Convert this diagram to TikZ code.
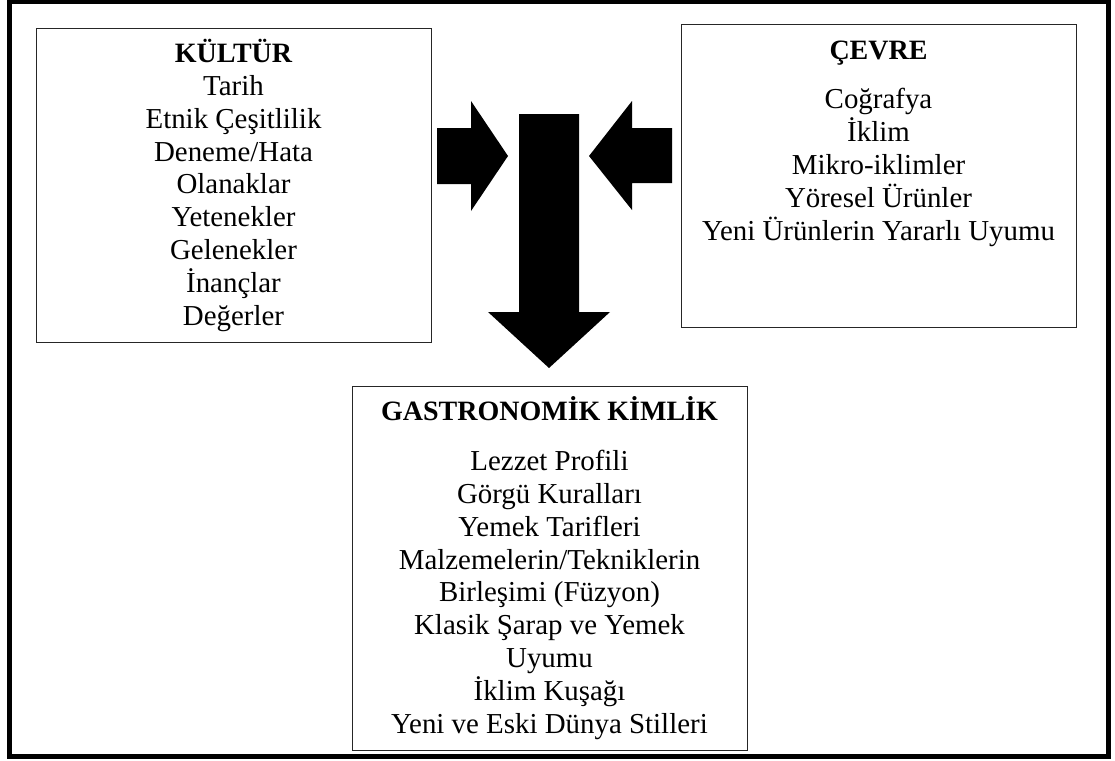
\documentclass[tikz,border=0pt]{standalone}
\usepackage{fontspec}
\setmainfont{Liberation Serif}
\newcommand{\headline}[1]{{\fontsize{28}{32.8}\selectfont\bfseries #1}}
\begin{document}
\begin{tikzpicture}[x=1pt,y=-1pt,
  frame/.style={draw=black,line width=5pt},
  panel/.style={draw=black!85,line width=1pt,fill=white},
  % multi-line nodes: the base anchor sits on the last line's baseline
  blocktext/.style={align=center,anchor=base,inner sep=0pt,
    font=\fontsize{28.9}{32.8}\selectfont},
  blockarrow/.style={fill=black,draw=none}]
  \useasboundingbox (0,0) rectangle (1115,760);
  \fill[white] (0,0) rectangle (1115,760);
  % outer frame
  \draw[frame] (9.5,2) rectangle (1108.5,756.5);

  % the three panels
  \draw[panel] (36,29) rectangle (431,342);
  \draw[panel] (681,25) rectangle (1076,327);
  \draw[panel] (352,386) rectangle (747,750);

  \node[blocktext] (kultur) at (233.5,325)
    {\headline{KÜLTÜR}\\Tarih\\Etnik Çeşitlilik\\Deneme/Hata\\Olanaklar\\Yetenekler\\Gelenekler\\İnançlar\\Değerler};
  \node[blocktext] (cevre) at (878.5,240)
    {\headline{ÇEVRE}\\[17pt]Coğrafya\\İklim\\Mikro-iklimler\\Yöresel Ürünler\\Yeni Ürünlerin Yararlı Uyumu};
  \node[blocktext] (kimlik) at (549.5,733)
    {\headline{GASTRONOMİK KİMLİK}\\[17pt]Lezzet Profili\\Görgü Kuralları\\Yemek Tarifleri\\Malzemelerin/Tekniklerin\\Birleşimi (Füzyon)\\Klasik Şarap ve Yemek\\Uyumu\\İklim Kuşağı\\Yeni ve Eski Dünya Stilleri};

  % block arrows: culture and environment feed into gastronomic identity
  \fill[blockarrow] (437,128) -- (471,128) -- (471,101) -- (508,156)
    -- (471,211) -- (471,184) -- (437,184) -- cycle;
  \fill[blockarrow] (672,128) -- (632,128) -- (632,101) -- (589,156)
    -- (632,210) -- (632,183) -- (672,183) -- cycle;
  \fill[blockarrow] (519,114) -- (579,114) -- (579,312) -- (610,312)
    -- (549,368) -- (488,312) -- (519,312) -- cycle;
\end{tikzpicture}
\end{document}
